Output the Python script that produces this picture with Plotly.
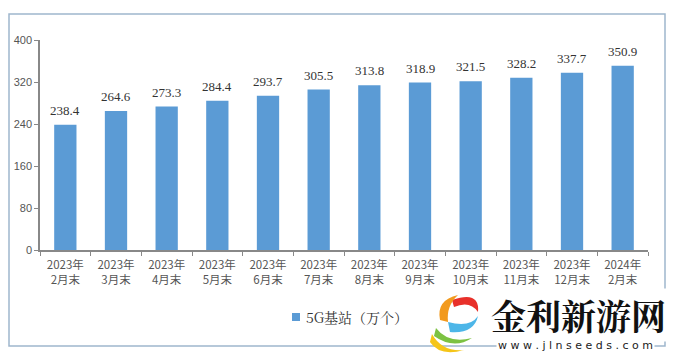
import plotly.graph_objects as go

categories = ["2023年<br>2月末", "2023年<br>3月末", "2023年<br>4月末", "2023年<br>5月末",
              "2023年<br>6月末", "2023年<br>7月末", "2023年<br>8月末", "2023年<br>9月末",
              "2023年<br>10月末", "2023年<br>11月末", "2023年<br>12月末", "2024年<br>2月末"]
values = [238.4, 264.6, 273.3, 284.4, 293.7, 305.5, 313.8, 318.9, 321.5, 328.2, 337.7, 350.9]
series_name = "5G基站（万个）"
y_ticks = [0, 80, 160, 240, 320, 400]

W, H = 675, 357
L, R, T, B = 40, 27, 40, 107
pw, ph = W - L - R, H - T - B
BAR_COLOR = "#5B9BD5"

def px_x(x):
    return (x - L) / pw

def px_y(y):
    return (H - B - y) / ph

fig = go.Figure()
fig.add_trace(go.Bar(
    x=categories, y=values, name=series_name,
    marker=dict(color=BAR_COLOR, line=dict(width=0)),
    cliponaxis=False, showlegend=False,
))

# value labels above the bars
for c, v in zip(categories, values):
    fig.add_annotation(x=c, y=v, xref="x", yref="y", text=f"{v:.1f}", showarrow=False,
                       yanchor="bottom", yshift=5,
                       font=dict(family="Liberation Serif, Times New Roman, serif", size=13, color="#333333"))

fig.update_layout(
    width=W, height=H,
    margin=dict(l=L, r=R, t=T, b=B, autoexpand=False),
    paper_bgcolor="white", plot_bgcolor="white",
    bargap=0.56,
    showlegend=False,
    font=dict(family="Liberation Sans, Noto Sans CJK SC", size=11, color="#555555"),
)
fig.update_xaxes(
    showline=True, linecolor="#888888", linewidth=1.5,
    ticks="outside", ticklen=4, tickcolor="#888888", tickson="boundaries",
    tickfont=dict(family="Noto Sans CJK SC", size=11.5, color="#555555"),
    ticklabelstandoff=3,
    showgrid=False, fixedrange=True, automargin=False,
)
fig.update_yaxes(
    range=[0, 400], tickvals=y_ticks,
    showline=True, linecolor="#888888", linewidth=1.5,
    ticks="outside", ticklen=4, tickcolor="#888888",
    tickfont=dict(family="Liberation Sans", size=11, color="#555555"),
    showgrid=False, zeroline=False, fixedrange=True, automargin=False,
)

# outer frame
fig.add_shape(type="rect", xref="paper", yref="paper",
              x0=px_x(9), x1=px_x(665), y0=px_y(346), y1=px_y(14),
              line=dict(color="#9FB6CD", width=1.5), fillcolor="rgba(0,0,0,0)", layer="below")

# manual legend
fig.add_shape(type="rect", xref="paper", yref="paper",
              x0=px_x(292), x1=px_x(300), y0=px_y(321), y1=px_y(313),
              fillcolor=BAR_COLOR, line=dict(width=0))
fig.add_annotation(xref="paper", yref="paper", x=px_x(304), y=px_y(317), xanchor="left", yanchor="middle",
                   text=series_name, showarrow=False,
                   font=dict(family="Noto Serif CJK SC, Liberation Serif, Noto Sans CJK SC", size=14, color="#333333"))

# watermark
fig.add_annotation(xref="paper", yref="paper", x=px_x(578), y=px_y(315), xanchor="center", yanchor="middle",
                   text="<b>金利新游网</b>", showarrow=False,
                   font=dict(family="Noto Serif CJK SC, Noto Sans CJK SC", size=35, color="#111111"),
                   bgcolor="white")
fig.add_annotation(xref="paper", yref="paper", x=px_x(575), y=px_y(345), xanchor="center", yanchor="middle",
                   text="w w w . j l n s e e d s . c o m", showarrow=False,
                   font=dict(family="DejaVu Sans", size=11, color="#222222"), bgcolor="white")

# simple logo swirl (pixel coordinates converted to paper)
logo = [("#E8302A", [(452, 300), (480, 290), (478, 312), (470, 300), (454, 307)]),
        ("#F29A1E", [(440, 320), (436, 300), (458, 295), (446, 306), (448, 322)]),
        ("#4DB6E8", [(448, 322), (470, 328), (478, 316), (474, 334), (450, 332)]),
        ("#7CC242", [(436, 328), (448, 344), (472, 338), (454, 350), (434, 336)]),
        ("#F5C518", [(432, 334), (442, 352), (464, 350), (440, 357), (430, 342)])]
for col, pts in logo:
    (x0, y0), (cx1, cy1), (x1, y1), (cx2, cy2), (x2, y2) = pts
    path = (f"M {px_x(x0):.4f},{px_y(y0):.4f} Q {px_x(cx1):.4f},{px_y(cy1):.4f} {px_x(x1):.4f},{px_y(y1):.4f} "
            f"Q {px_x(cx2):.4f},{px_y(cy2):.4f} {px_x(x2):.4f},{px_y(y2):.4f} Z")
    fig.add_shape(type="path", xref="paper", yref="paper", path=path,
                  fillcolor=col, line=dict(width=0))

fig.write_html("out.html", config={"displayModeBar": False})

# remove the default page margin so the figure sits at the window's top-left corner
with open("out.html", "r", encoding="utf-8") as f:
    html = f.read()
html = html.replace("<head>", "<head><style>html,body{margin:0;padding:0;overflow:hidden;}</style>", 1)
with open("out.html", "w", encoding="utf-8") as f:
    f.write(html)
